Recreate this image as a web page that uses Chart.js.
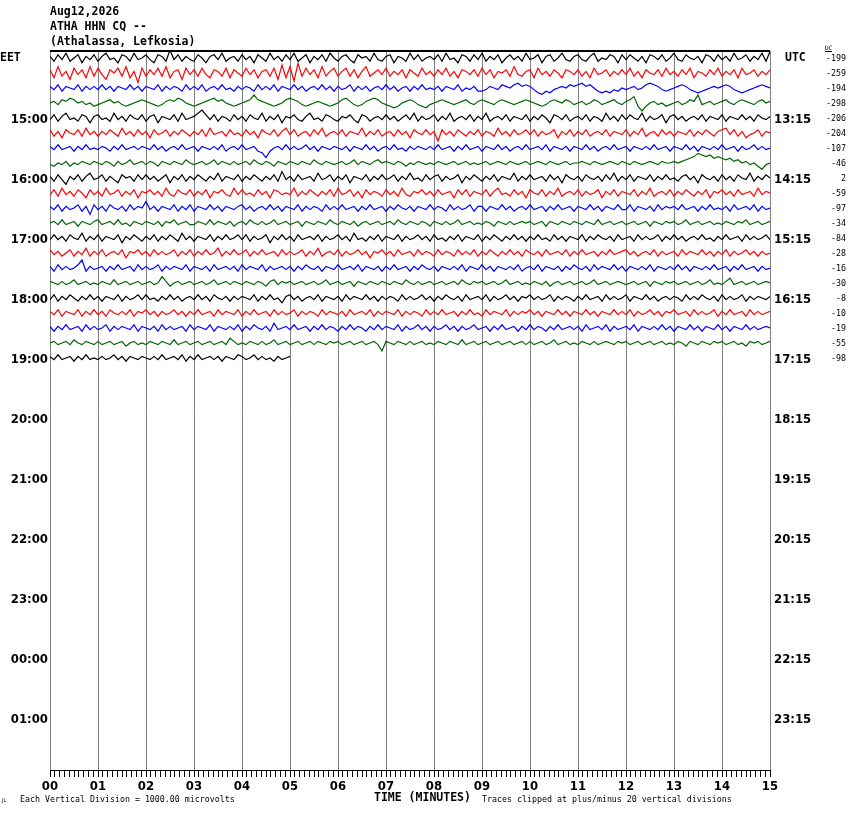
<!DOCTYPE html>
<html>
<head>
<meta charset="utf-8">
<script src="https://cdn.jsdelivr.net/npm/chart.js@4.4.1/dist/chart.umd.min.js"></script>
<style>
html, body { margin: 0; padding: 0; background: #fff; }
canvas { display: block; }
</style>
</head>
<body>
<canvas id="heli" width="850" height="814"></canvas>
<script>
// header / labels
var titleLines = ["Aug12,2026", "ATHA HHN CQ --", "(Athalassa, Lefkosia)"];
var leftHours = ["15:00", "16:00", "17:00", "18:00", "19:00", "20:00", "21:00", "22:00", "23:00", "00:00", "01:00"];
var rightHours = ["13:15", "14:15", "15:15", "16:15", "17:15", "18:15", "19:15", "20:15", "21:15", "22:15", "23:15"];
var hourRows = [4, 8, 12, 16, 20, 24, 28, 32, 36, 40, 44];
var minuteLabels = ["00", "01", "02", "03", "04", "05", "06", "07", "08", "09", "10", "11", "12", "13", "14", "15"];
var dcOffsets = [-199, -259, -194, -298, -206, -204, -107, -46, 2, -59, -97, -34, -84, -28, -16, -30, -8, -10, -19, -55, -98];
var traceColors = ["#000000", "#ff0000", "#0000ff", "#006400"];

// trace samples, one every 5 s (12 per minute)
var row00 = [1,-2,2,-1,3,-2,0,2,-3,1,-1,2, -2,1,3,-1,0,-3,2,1,-2,3,-1,0, 2,-1,-3,2,1,-2,5,-1,2,-2,1,-1, -2,2,0,-3,1,2,-1,3,-2,0,1,-2, 2,-1,1,-3,2,0,-2,3,-1,1,-2,2, -1,3,-2,0,2,-3,1,-1,2,-2,3,0, -2,1,2,-1,-3,2,0,1,-2,3,-1,-2, 1,2,-3,1,0,-2,3,-1,2,-2,0,1, -1,2,-2,3,-1,0,-3,2,1,-2,2,-1, 3,-2,1,-1,2,-3,0,2,-1,1,-2,3, -1,0,2,-3,1,2,-2,0,3,-1,-2,1, 2,-1,-2,1,3,-2,0,-1,2,1,-3,2, -1,2,0,-2,1,-3,2,1,-1,2,-2,0, 3,-1,-2,2,0,-1,1,-3,2,1,-2,2, -1,1,-2,3,-1,0,2,-2,1,-1,3,-2,4];
var row01 = [2,-3,4,-2,1,-4,3,-1,2,-3,4,-2, 3,-1,-4,2,0,3,-2,4,-3,1,-6,3, -2,2,-1,3,-2,4,-3,1,2,-4,3,-1, 2,-2,3,-1,-3,2,1,-2,3,-3,2,0, -2,3,-1,2,-3,1,2,-2,3,-4,5,-3, 4,-5,6,-2,3,-1,2,-3,4,-2,1,3, -2,1,3,-2,2,-3,1,4,-2,0,2,-1, 3,-2,1,-1,2,-3,2,0,-2,3,-1,1, -2,2,-1,3,-2,1,-3,2,1,-1,2,-2, 3,-1,2,-3,1,0,2,-2,4,-1,-2,1, 2,-3,3,-1,1,-2,2,0,-3,2,1,-1, 2,-2,1,-3,3,-1,0,2,-2,1,-1,2, -1,3,-2,1,-3,2,0,-1,2,-2,3,-1, 1,-2,2,-1,3,-3,1,0,-2,2,-1,3, -2,1,-1,2,-3,3,-1,0,2,-2,1,-1,2];
var row02 = [1,-1,2,-2,1,0,-1,2,-2,1,-1,1, -1,2,-1,1,-2,1,0,-1,2,-1,1,-2, 1,0,-1,2,-2,1,-1,1,0,-2,2,-1, 1,-1,2,-2,0,1,-1,2,-1,0,-2,1, -1,1,0,-2,2,-1,1,-1,2,-2,1,0, -1,2,-1,1,-2,0,1,-1,2,-1,1,-2, 1,-1,0,2,-2,1,-1,1,-2,0,1,-1, 2,-1,1,-2,0,1,-2,1,-1,2,-1,0, -1,1,-2,1,0,-1,2,-2,0,-1,1,-2, -2,-1,1,0,-1,2,1,0,2,3,1,2, 1,-1,-3,-4,-2,-3,-1,0,1,0,2,1, 2,3,1,2,0,-2,-3,-2,-3,-1,-2,0, -1,0,1,-1,0,2,3,2,1,-1,-2,-1, 0,1,2,1,-1,-2,-3,-2,-1,0,1,0, 1,2,1,-1,-2,-3,-2,-1,0,1,2,1,0];
var row03 = [0,1,-1,2,1,3,2,0,1,-1,0,-2, -1,0,1,2,0,1,-1,-2,-1,0,1,2, 1,0,-1,-2,-1,1,2,1,3,2,0,-1, -2,-1,0,1,2,3,1,2,0,-1,-2,-1, 0,1,2,5,2,1,0,-1,-2,-1,0,2, 3,2,1,-1,-2,-1,0,1,0,-1,-2,-1, 0,2,3,1,-1,-2,-1,1,2,3,2,0, -1,-2,-3,-2,0,1,2,1,-1,-2,-3,-1, 0,1,2,1,0,-1,0,1,2,0,-1,1, 2,1,0,-1,1,2,1,0,-1,0,1,2, 1,0,-1,-2,-1,1,2,1,0,2,1,-1, 0,1,-1,0,2,1,-1,0,1,2,0,-1, 1,2,4,-2,-5,-2,0,1,-1,0,-2,-1, 0,1,-1,0,2,1,5,-1,0,1,-1,0, 1,2,0,-1,1,2,1,0,-1,1,2,0,1];
var row04 = [-1,2,-2,1,3,-1,0,-2,2,1,-3,1, 2,-1,0,-2,3,-1,1,-2,2,0,-1,2, -2,1,2,-3,1,0,-1,2,-2,3,-1,0, 1,3,5,2,-1,2,-2,1,0,-2,2,-1, 1,-2,2,0,-1,3,-2,1,-1,2,-3,1, 0,2,-1,-2,1,3,-1,0,-2,2,1,-1, -2,1,0,2,-1,-3,2,1,-2,0,1,-1, 2,-1,1,-2,0,2,-1,3,-2,1,-1,0, 2,-2,1,-1,3,-2,0,1,-1,2,-2,1, -1,3,-2,0,1,-1,2,-2,1,0,-1,2, -2,1,-1,2,0,-3,2,1,-1,2,-2,0, 1,-1,2,-2,1,0,-2,3,-1,1,-2,2, -1,2,0,-1,3,-2,1,-1,0,2,-3,1, 2,-1,1,-2,0,1,-1,2,-2,1,0,-1, 2,-2,1,0,-1,2,-1,1,-2,2,0,-1,1];
var row05 = [2,-2,1,-3,2,0,-1,2,-2,3,-1,1, -2,1,-1,2,0,-2,3,-1,1,-2,2,-1, 1,-3,2,-1,0,2,-2,1,-1,2,0,-2, 1,-1,2,-2,3,-1,0,1,-2,2,-1,0, -2,2,-1,1,-3,2,0,-1,2,-2,1,3, -1,2,-2,0,1,-2,2,-1,3,-2,0,1, -1,2,-2,1,0,-1,3,-2,1,-1,2,-2, 0,1,-2,2,-1,1,-3,2,0,-1,2,-1, 1,-5,2,-1,1,-2,2,0,-2,1,-1,2, -2,1,0,-2,3,-1,1,-2,2,-1,0,2, -1,2,-2,1,-1,0,2,-3,1,-1,2,-2, 1,-1,2,-2,0,1,-1,2,-2,1,0,-1, 2,-2,1,-1,3,-2,0,1,-2,2,-1,1, -2,1,0,-1,2,-2,1,-1,2,0,-2,1, 2,3,-1,2,-2,1,-3,-1,0,2,-2,1,0];
var row06 = [1,-1,2,-1,0,1,-2,1,-1,2,-1,0, -1,1,0,-2,1,-1,2,-1,0,1,-1,1, 0,-1,2,-1,1,-2,0,1,-1,2,-1,0, 1,-2,1,0,-1,1,-1,2,-2,0,1,-1, 2,-1,0,1,-2,-3,-6,-2,0,1,-1,2, -1,1,-1,0,2,-1,1,-2,1,0,-1,1, 0,-1,1,-2,1,0,-1,2,-1,1,-2,0, 1,-1,2,-1,0,-2,1,-1,1,0,-1,1, -1,2,-1,0,1,-2,1,-1,2,-1,0,1, -2,1,0,-1,2,-1,1,-2,0,1,-1,2, -1,0,1,-1,2,-2,1,0,-1,1,-2,1, 0,-1,2,-1,1,-2,0,1,-1,2,-1,0, 1,-2,1,0,-1,1,-1,2,-1,0,1,-2, 1,0,-1,2,-1,1,-2,1,0,-1,1,-1, 2,-1,0,1,-2,1,-1,0,2,-1,1,-1,0];
var row07 = [-1,-2,0,-1,1,-2,0,-1,1,0,-1,1, 0,-1,1,0,-2,1,-1,0,2,-1,0,1, -1,1,0,-2,1,0,-1,1,0,-1,2,0, -1,0,1,-1,0,2,-1,1,0,-1,1,-1, 0,1,-1,2,0,-1,1,0,-2,1,0,-1, 1,0,-1,1,0,-1,2,0,-1,1,0,-1, 0,1,-1,0,2,-1,1,0,-1,1,2,0, 1,0,-1,1,0,-2,0,-1,1,0,-1,0, -1,1,0,-1,0,1,-1,0,1,-1,0,-1, 0,1,-1,0,1,0,-1,1,0,-1,0,1, -1,0,1,0,-1,1,0,-1,0,1,-1,0, 0,1,0,-1,1,0,-1,0,1,0,-1,1, 0,-1,1,0,-1,0,1,0,-1,1,0,0, 1,0,1,2,3,4,6,5,4,5,3,4, 3,2,3,1,2,0,1,-1,0,-2,-4,-1,0];
var row08 = [1,-2,2,-1,-4,1,-1,2,-2,1,3,-1, 0,2,-2,1,-1,-3,2,0,1,-2,2,-1, 2,-1,1,-2,0,2,-3,1,-1,2,-2,1, -1,2,0,-2,1,-1,3,-2,1,0,-1,2, -2,1,-1,2,0,-2,1,-1,2,-2,4,-1, 1,-2,2,-1,0,1,-2,3,-1,0,2,-2, 1,-1,2,-3,1,0,-1,2,-2,1,-1,2, -1,0,2,-2,1,-1,3,-1,0,-2,2,-1, 1,2,-2,1,-1,0,2,-3,1,-1,2,0, -2,1,-1,2,-2,1,0,-1,3,-2,1,-1, 2,-1,0,1,-2,2,-1,1,-3,2,0,-1, 1,-2,2,0,-1,1,-2,2,-1,3,-2,1, -1,2,-2,1,0,-1,2,-2,1,-1,2,-1, 0,-2,1,2,-1,1,-3,2,0,-1,1,-2, 2,-1,1,-2,2,0,-1,3,-2,1,-1,2,0];
var row09 = [-1,2,-2,3,-1,1,-2,2,0,-3,2,-1, 1,-2,3,-1,0,2,-2,1,-1,2,-3,1, 0,2,-1,1,-2,3,-1,-2,2,0,-1,2, -2,1,-1,2,-3,1,0,2,-1,-2,3,-1, 2,-1,0,-2,2,-1,1,-3,2,1,-1,0, -1,3,-2,1,-1,2,0,-2,1,-1,2,-2, 3,-1,0,2,-2,1,-3,2,-1,1,0,-2, 2,-1,1,-2,3,-1,-2,1,0,2,-1,1, -2,2,-1,0,1,-3,2,-1,2,-2,1,0, -1,2,-2,1,3,-1,0,-2,2,-1,1,-3, 2,0,-1,2,-2,1,-1,3,-2,0,1,-1, 2,-2,1,-1,0,2,-3,1,-1,2,-2,1, 0,-1,2,-2,1,-1,3,-2,0,1,-1,2, -2,1,-1,2,0,-2,1,-1,2,-3,1,0, 2,-1,1,-2,2,-1,0,1,-2,3,-1,1,0];
var row10 = [1,-1,2,-2,1,-1,0,2,-2,1,-4,2, -1,1,-2,2,0,-1,1,-2,2,-1,1,0, 4,-1,1,-2,1,0,-1,2,-2,1,-1,2, -2,1,0,-1,2,-1,1,-2,1,0,-1,1, 2,-1,1,-2,0,1,-1,2,-1,1,-2,1, 0,-1,2,-2,1,-1,1,0,-2,2,-1,1, -1,2,-1,0,1,-2,1,-1,2,-1,0,1, -2,1,-1,2,0,-1,1,-2,1,0,-1,2, -1,1,0,-2,2,-1,1,-1,0,2,-2,1, 1,-2,1,0,-1,2,-1,1,-2,0,1,-1, 2,-1,0,1,-2,1,-1,2,-1,0,1,-2, 1,0,-1,2,-1,1,-2,1,0,-1,2,-1, -1,2,-2,1,0,-1,1,-2,2,-1,1,0, 1,-1,2,-1,0,1,-2,1,-1,2,-1,0, -1,1,-2,2,-1,0,1,-1,2,-2,1,-1,0];
var row11 = [0,1,-1,2,-1,0,1,-2,1,0,-1,1, 2,-1,0,1,-1,2,-1,0,-2,1,0,-1, 1,0,-1,1,-2,1,0,2,-1,0,1,-1, -1,1,0,-1,2,-1,1,0,-1,1,-2,0, 1,-1,2,0,-1,1,-1,0,2,-1,0,1, -1,0,1,-2,1,0,-1,1,0,-1,2,0, -1,1,0,-1,1,-2,0,1,-1,0,1,-1, 0,1,-1,2,0,-1,1,0,-1,1,0,-2, 1,0,-1,1,-1,0,2,-1,0,1,-1,0, -1,1,0,-2,1,0,-1,1,-1,0,1,0, 1,-1,0,1,-2,1,0,-1,1,0,-1,1, 0,-1,1,0,-1,2,-1,0,1,-1,0,1, -1,0,1,-1,0,1,-2,1,0,-1,1,0, 1,-1,0,2,-1,0,1,-1,0,1,-1,0, -1,1,0,-1,1,0,2,-1,0,1,-1,0,1];
var row12 = [-1,2,-1,1,-2,2,0,-1,3,-2,1,-1, 2,-2,1,0,-1,2,-3,1,-1,2,0,-2, 1,-1,2,-2,1,-1,2,0,-2,3,-1,1, -2,1,0,-1,2,-2,1,-1,2,-1,0,2, -1,2,-2,1,-1,0,2,-3,1,-1,2,-1, 1,-2,2,-1,0,1,-1,2,-2,1,-1,0, 2,-1,1,-2,3,-1,0,-2,1,-1,2,-2, 1,0,-1,2,-2,1,-1,0,2,-1,1,-2, 2,-1,0,-2,1,-1,2,-2,1,0,-1,2, -2,1,-1,2,0,-2,1,-1,2,-1,1,-2, 1,-1,2,-1,0,-2,2,-1,1,-2,1,0, -1,2,-2,1,-1,2,0,-1,1,-2,2,-1, 0,1,-2,2,-1,1,-1,0,2,-2,1,-1, 2,-1,1,-2,0,1,-1,2,-1,0,-2,1, -1,2,-1,0,1,-2,2,-1,1,-1,0,2,-1];
var row13 = [2,-1,1,-2,0,2,-2,1,-1,3,-2,1, -1,2,-2,0,1,-1,2,-3,1,0,2,-1, 1,-2,2,-1,1,-1,0,2,-2,1,-1,2, -2,1,-1,2,-1,0,3,-2,1,-1,2,-1, 0,2,-2,1,-1,2,-1,0,1,-2,2,-1, 1,-1,0,2,-2,1,-1,3,-2,0,1,-1, 2,-2,1,-1,0,2,-1,1,-3,1,0,2, -1,1,-2,2,-1,0,1,-2,2,-1,1,0, -2,2,-1,1,0,-2,2,-1,1,-1,2,-2, 1,-1,2,0,-2,1,-1,2,-1,1,-2,2, 0,-1,1,-2,2,-1,0,1,-1,2,-2,1, -1,2,-1,0,1,-2,1,-1,2,-1,0,1, 2,-1,1,-2,0,1,-1,2,-2,1,-1,0, 1,-2,2,-1,1,0,-1,2,-1,1,-2,1, -1,2,-2,1,-1,0,2,-1,1,-2,1,-1,0];
var row14 = [1,-2,2,-1,1,-1,0,2,5,-2,1,-1, 0,1,-2,1,-1,2,-1,0,1,-2,2,-1, 1,-1,0,2,-2,1,-1,1,0,-1,2,-2, 1,0,-1,1,-2,2,-1,0,1,-1,1,-2, 2,-1,1,0,-1,2,-2,1,-1,0,1,-1, 1,-2,1,-1,2,0,-1,1,-2,1,0,-1, 2,-1,0,1,-1,2,-2,1,0,-1,1,-2, 1,-1,2,-1,0,1,-2,1,-1,2,0,-1, 1,-2,1,0,-1,1,-1,2,-2,1,0,-1, 2,-1,1,-2,1,0,-1,1,-1,2,-2,0, 1,-1,2,-2,1,0,-1,1,-2,1,-1,2, 0,-1,1,-2,2,-1,1,0,-1,2,-1,1, -2,1,0,-1,1,-1,2,-2,1,0,-1,1, -1,2,-1,1,-2,1,0,-1,1,-1,2,-1, 0,1,-2,1,-1,2,-1,0,1,-2,1,-1,0];
var row15 = [1,0,-1,1,-1,0,2,-1,0,1,-1,0, -1,1,0,-1,2,-1,0,1,-1,0,1,-1, 0,1,-1,0,4,1,-2,0,1,-1,0,1, -1,0,1,-1,0,2,-1,0,1,-1,1,0, -1,1,0,-1,1,0,-2,1,2,-1,1,0, 1,-1,0,1,-1,0,1,-1,0,2,-1,0, 1,-1,0,1,-2,1,0,-1,1,0,-1,1, 0,-1,1,0,-1,2,0,-1,1,-1,0,1, -1,0,1,-1,0,1,-1,2,0,-1,1,0, 1,-1,0,1,-1,0,2,-1,0,1,-1,0, -1,1,0,-1,1,-2,0,1,-1,0,1,-1, 0,1,-1,0,2,-1,0,1,-1,0,1,0, -1,0,1,-1,0,1,-2,1,0,-1,1,0, 1,-1,0,1,-1,0,1,-1,0,2,-1,0, -1,1,3,-1,0,1,-1,0,1,-1,0,1,0];
var row16 = [-1,2,-2,1,-1,2,0,-2,1,-1,2,-1, 1,-2,1,0,-1,2,-2,1,-1,0,2,-1, 2,-1,0,-2,1,-1,2,-1,1,-2,0,1, -1,2,-1,1,-2,2,0,-1,1,-2,1,-1, 1,0,-1,2,-2,1,-1,2,-1,0,-3,1, 2,-1,1,-2,0,1,-1,2,-2,1,0,-1, 1,-2,2,-1,1,0,-1,2,-1,1,-2,1, -1,1,0,-2,2,-1,1,-1,0,2,-1,1, -2,1,-1,2,0,-1,1,-2,2,-1,0,1, -1,2,-2,1,-1,0,2,-1,1,-2,1,0, 2,-1,1,-1,0,2,-2,1,-1,1,0,-2, 1,-1,2,-1,0,1,-2,2,-1,1,-1,0, 2,-2,1,0,-1,2,-1,1,-2,0,1,-1, 1,0,-2,2,-1,1,-1,2,0,-1,1,-2, 2,-1,1,-1,0,2,-2,1,-1,1,0,-1,1];
var row17 = [1,-1,2,-2,1,0,-1,2,-2,1,-1,2, -1,1,-2,2,0,-1,1,-1,2,-2,1,0, 2,-1,1,-2,1,-1,0,2,-1,1,-2,1, -1,2,-1,0,1,-2,2,-1,1,0,-1,2, -2,1,-1,2,-1,0,1,-2,2,-1,1,-1, 0,2,-2,1,-1,1,0,-2,2,-1,1,0, -1,1,-2,2,-1,0,1,-1,2,-2,1,-1, 1,0,-1,2,-2,1,-1,1,0,-2,2,-1, 1,-1,2,-1,0,1,-2,1,-1,2,-1,0, -2,2,-1,1,0,-1,2,-2,1,-1,1,0, 2,-1,1,-2,1,0,-1,2,-1,1,-2,1, 0,-1,2,-1,1,-2,1,0,-1,2,-1,1, -1,2,-2,1,-1,0,2,-1,1,-2,1,0, 2,-1,0,1,-2,2,-1,1,-1,0,2,-2, 1,-1,2,-1,0,1,-2,2,-1,1,-1,0,1];
var row18 = [1,-2,1,-1,2,-1,0,1,-2,2,-1,1, -1,0,2,-2,1,-1,1,0,-1,2,-2,1, 0,-1,1,-2,2,-1,1,-1,0,1,-2,2, -1,1,0,-1,2,-2,1,0,-1,1,-1,2, -2,1,-1,2,0,-1,1,-2,3,-1,0,1, -1,2,-1,0,1,-2,1,-1,2,-1,1,0, -2,1,-1,2,-1,1,0,-2,1,-1,2,-1, 1,0,-1,2,-2,1,-1,0,2,-1,1,-2, 1,-1,0,2,-1,1,-2,1,-1,0,2,-1, 0,1,-2,1,-1,2,-1,0,1,-2,1,-1, 2,-1,1,0,-2,1,-1,2,-1,0,1,-1, 1,-2,2,-1,0,1,-1,2,-2,1,-1,0, 1,-1,2,-2,1,0,-1,1,-1,2,-1,1, -2,1,0,-1,2,-1,1,-2,1,0,-1,2, -1,1,-2,1,0,-1,2,-1,1,-1,0,1,0];
var row19 = [0,1,-1,0,1,-1,2,0,-1,1,0,-1, 1,-1,0,1,-1,0,1,-2,0,1,-1,0, -1,1,0,-1,1,0,-1,2,-1,0,1,-1, 0,1,-1,0,1,-1,0,1,-1,3,1,-1, 0,-1,1,0,-1,1,-1,0,2,-1,0,1, -1,0,1,-1,0,1,-1,1,0,-1,1,0, 1,-1,0,1,-1,0,1,-1,0,1,-1,-5, 1,0,-1,1,0,-1,1,-1,0,1,-1,0, -1,1,0,-1,1,0,-1,2,-1,0,1,-1, 0,1,-1,0,1,-1,0,1,-1,0,1,-1, 1,-1,0,1,-1,0,2,-1,0,1,-1,0, -1,1,0,-1,1,-1,0,1,0,-1,1,0, 1,-1,0,1,-1,0,1,-1,0,1,-1,0, -1,1,0,-2,1,0,-1,1,0,-1,1,0, 1,-1,0,1,-1,0,-2,1,0,1,-1,0,1];
var row20 = [1,-1,2,-1,0,1,-2,1,-1,2,-1,0, -1,1,-1,0,2,-1,1,-2,1,0,-1,1, 0,-1,1,-1,2,-1,0,1,-1,2,-2,1, -1,2,-1,0,1,-1,1,-2,1,0,-1,2, 1,-1,0,2,-1,1,-1,0,-2,1,-1,0,1];

var traceRows = [row00, row01, row02, row03, row04, row05, row06, row07, row08, row09,
  row10, row11, row12, row13, row14, row15, row16, row17, row18, row19, row20];
var traceMinutes = [15, 15, 15, 15, 15, 15, 15, 15, 15, 15, 15, 15, 15, 15, 15, 15, 15, 15, 15, 15, 5];

var GAIN = 1.6 / 15; // rows per sample unit (a row is 15 px)
var monoBold = 'bold 11.5px "DejaVu Sans Mono"';
var small = '8.3px "DejaVu Sans Mono"';
var labelFont = { family: '"DejaVu Sans Condensed", "DejaVu Sans"', weight: 'bold', size: 13 };

var datasets = traceRows.map(function (vals, r) {
  var span = traceMinutes[r];
  return {
    data: vals.map(function (v, i) {
      return { x: i * span / (vals.length - 1), y: r - v * GAIN };
    }),
    borderColor: traceColors[r % 4],
    borderWidth: 1.2,
    pointRadius: 0,
    tension: 0,
    fill: false
  };
});

var heliText = {
  id: 'heliText',
  afterDraw: function (chart) {
    var c = chart.ctx, a = chart.chartArea, ys = chart.scales.y;
    c.save();
    c.strokeStyle = '#000';
    c.lineWidth = 2;
    c.beginPath();
    c.moveTo(a.left, a.top);
    c.lineTo(a.right, a.top);
    c.stroke();

    c.fillStyle = '#000';
    c.textBaseline = 'middle';
    c.textAlign = 'left';
    c.font = monoBold;
    titleLines.forEach(function (t, i) { c.fillText(t, 50, 12 + i * 15); });
    c.fillText('EET', 0, ys.getPixelForValue(0));
    c.fillText('UTC', 785, ys.getPixelForValue(0));
    c.fillText('TIME (MINUTES)', 374, 798);

    c.font = small;
    c.fillText('Each Vertical Division = 1000.00 microvolts', 20, 800);
    c.fillText('Traces clipped at plus/minus 20 vertical divisions', 482, 800);
    c.font = '5px "DejaVu Sans"';
    c.fillText('JL', 2, 801);

    c.font = small;
    c.textAlign = 'right';
    dcOffsets.forEach(function (d, r) { c.fillText(String(d), 846, ys.getPixelForValue(r) + 1); });

    c.textAlign = 'left';
    c.font = '6px "DejaVu Sans Mono"';
    c.fillText('DC', 825, 48);
    c.lineWidth = 1;
    c.beginPath();
    c.moveTo(825, 51.5);
    c.lineTo(832, 51.5);
    c.stroke();
    c.restore();
  }
};

new Chart(document.getElementById('heli'), {
  type: 'line',
  data: { datasets: datasets },
  plugins: [heliText],
  options: {
    responsive: false,
    animation: false,
    devicePixelRatio: 1,
    layout: { padding: { top: 51, left: 0, right: 0, bottom: 0 } },
    plugins: { legend: { display: false }, tooltip: { enabled: false }, title: { display: false } },
    scales: {
      x: {
        type: 'linear', min: 0, max: 15, z: 1,
        afterBuildTicks: function (s) {
          s.ticks = [];
          for (var i = 0; i <= 150; i++) s.ticks.push({ value: i / 10 });
        },
        afterFit: function (s) { s.height = 44; },
        ticks: {
          autoSkip: false, maxRotation: 0, padding: 2, color: '#000', font: labelFont,
          callback: function (v, i) { return i % 10 === 0 ? minuteLabels[i / 10] : ''; }
        },
        grid: {
          color: function (ctx) { return ctx.index % 10 === 0 ? '#808080' : 'rgba(0,0,0,0)'; },
          tickColor: '#000', tickLength: 7, lineWidth: 1
        },
        border: { display: true, color: '#000', width: 1 }
      },
      y: {
        type: 'linear', position: 'left', reverse: true, min: -7 / 15, max: 712 / 15,
        afterBuildTicks: function (s) { s.ticks = hourRows.map(function (v) { return { value: v }; }); },
        afterFit: function (s) { s.width = 50; },
        ticks: { padding: 2, labelOffset: 2, color: '#000', font: labelFont, callback: function (v, i) { return leftHours[i]; } },
        grid: { display: false, drawTicks: false },
        border: { display: false }
      },
      y2: {
        type: 'linear', position: 'right', reverse: true, min: -7 / 15, max: 712 / 15,
        afterBuildTicks: function (s) { s.ticks = hourRows.map(function (v) { return { value: v }; }); },
        afterFit: function (s) { s.width = 80; },
        ticks: { padding: 4, labelOffset: 2, color: '#000', font: labelFont, callback: function (v, i) { return rightHours[i]; } },
        grid: { display: false, drawTicks: false },
        border: { display: false }
      }
    }
  }
});
</script>
</body>
</html>
